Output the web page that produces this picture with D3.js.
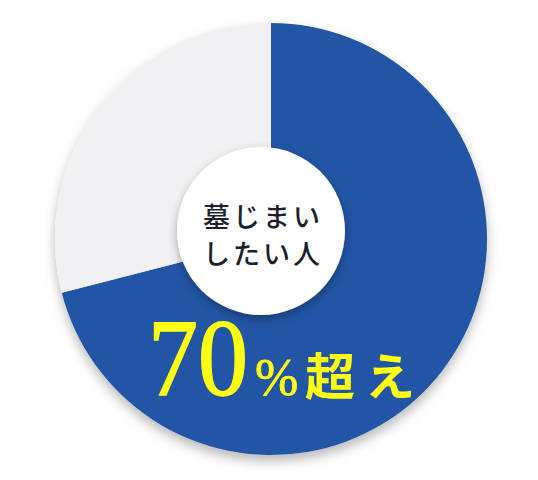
<!DOCTYPE html>
<html>
<head>
<meta charset="utf-8">
<script src="https://cdn.jsdelivr.net/npm/d3@7"></script>
<style>
  html, body { margin: 0; padding: 0; background: #ffffff; }
  svg { display: block; }
</style>
</head>
<body>
<svg id="chart" width="538" height="480"></svg>
<script>
const categories = ["墓じまいしたい人", "その他"];
const values = [71, 29];
const colors = ["#2455a5", "#f1f0f2"];
const centerLines = ["墓じまい", "したい人"];
const bigNumber = "70";
const percentSign = "%";
const suffix = "超え";

const svg = d3.select("#chart");
const cx = 271, cy = 239, R = 216;

const defs = svg.append("defs");
const f1 = defs.append("filter").attr("id", "pieShadow")
  .attr("x", "-20%").attr("y", "-20%").attr("width", "140%").attr("height", "140%");
f1.append("feDropShadow").attr("dx", 0).attr("dy", 6).attr("stdDeviation", 6)
  .attr("flood-color", "#000").attr("flood-opacity", 0.28);
const f2 = defs.append("filter").attr("id", "circleShadow")
  .attr("x", "-30%").attr("y", "-30%").attr("width", "160%").attr("height", "160%");
f2.append("feDropShadow").attr("dx", 0).attr("dy", 4).attr("stdDeviation", 5)
  .attr("flood-color", "#000").attr("flood-opacity", 0.3);

const pie = d3.pie().sort(null).value(d => d)(values);
const arc = d3.arc().innerRadius(0).outerRadius(R);

const g = svg.append("g").attr("transform", `translate(${cx},${cy})`)
  .attr("filter", "url(#pieShadow)");
g.selectAll("path").data(pie).join("path")
  .attr("d", arc)
  .attr("fill", (d, i) => colors[i]);

svg.append("circle")
  .attr("cx", 261).attr("cy", 231).attr("r", 84)
  .attr("fill", "#ffffff")
  .attr("filter", "url(#circleShadow)");

const tc = svg.append("text")
  .attr("x", 262).attr("y", 227)
  .attr("text-anchor", "middle")
  .attr("font-family", "'Noto Sans CJK JP', sans-serif")
  .attr("font-size", 27)
  .attr("font-weight", 500)
  .attr("letter-spacing", 3)
  .attr("fill", "#1c1f2e");
centerLines.forEach((t, i) => {
  tc.append("tspan").attr("x", 263).attr("dy", i === 0 ? 0 : 37).text(t);
});

const lab = svg.append("text")
  .attr("y", 395)
  .attr("fill", "#ffff14");
lab.append("tspan")
  .attr("x", 148)
  .attr("font-family", "'Liberation Serif', 'DejaVu Serif', serif")
  .attr("font-size", 110)
  .attr("stroke", "#ffff14")
  .attr("stroke-width", 1.6)
  .attr("textLength", 100)
  .attr("lengthAdjust", "spacingAndGlyphs")
  .text(bigNumber);
lab.append("tspan")
  .attr("x", 255)
  .attr("font-family", "'Liberation Serif', 'DejaVu Serif', serif")
  .attr("font-size", 52)
  .attr("stroke", "#ffff14")
  .attr("stroke-width", 0.8)
  .text(percentSign);
lab.append("tspan")
  .attr("x", 305)
  .attr("font-family", "'Noto Sans CJK JP', sans-serif")
  .attr("font-weight", 700)
  .attr("font-size", 50)
  .attr("letter-spacing", 10)
  .text(suffix);
</script>
</body>
</html>
